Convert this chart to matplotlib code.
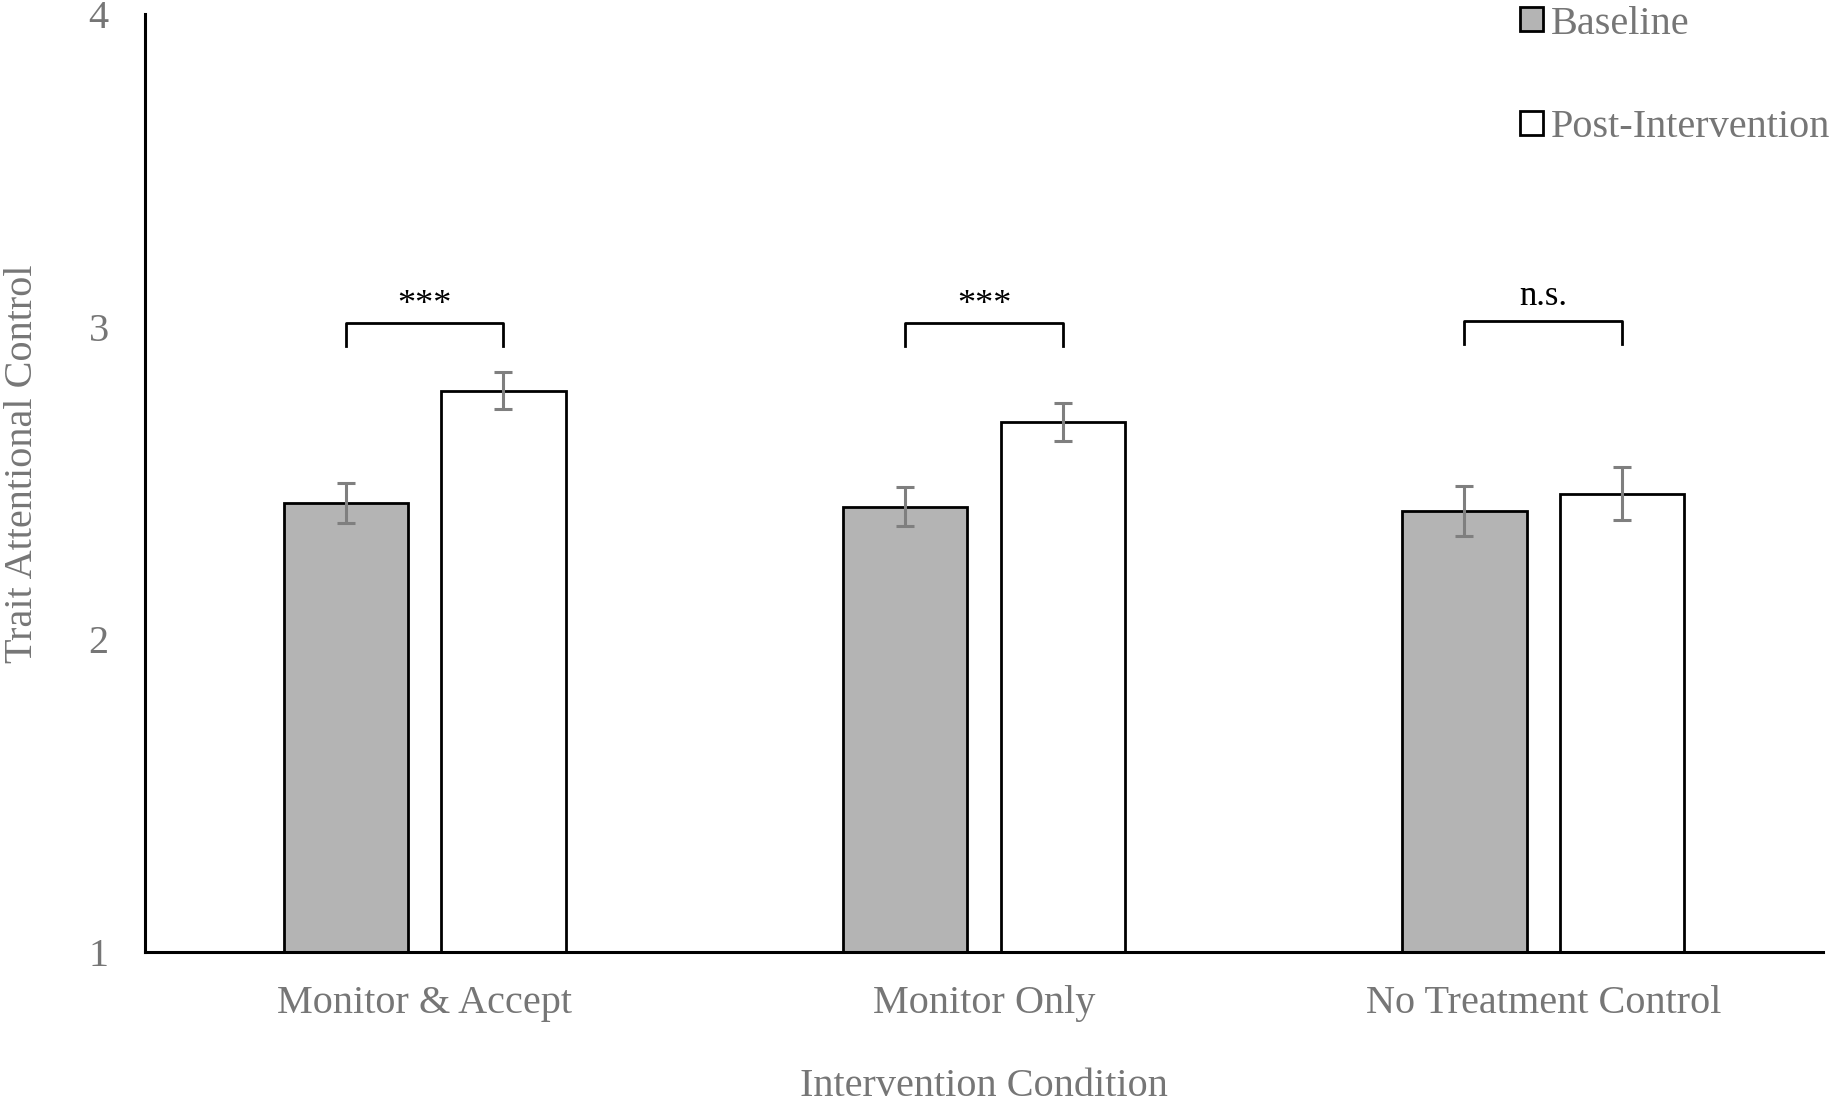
import matplotlib.pyplot as plt
import numpy as np

plt.rcParams["font.family"] = ["Liberation Serif", "DejaVu Serif"]

# Daten
conditions = ["Monitor & Accept", "Monitor Only", "No Treatment Control"]
baseline = [2.436, 2.425, 2.41]
baseline_err = [0.063, 0.062, 0.08]
post = [2.796, 2.695, 2.466]
post_err = [0.06, 0.06, 0.084]
sig_labels = ["***", "***", "n.s."]

grey_text = "#767676"
x = np.arange(len(conditions))
width = 0.222
offset = 0.141

fig = plt.figure(figsize=(18.34, 11.03), dpi=100)
ax = fig.add_axes([0.079, 0.137, 0.915, 0.85])

ax.bar(x - offset, baseline, width, color="#b4b4b4", edgecolor="black",
       linewidth=2, label="Baseline", zorder=2)
ax.bar(x + offset, post, width, color="white", edgecolor="black",
       linewidth=2, label="Post-Intervention", zorder=2)
ax.errorbar(x - offset, baseline, yerr=baseline_err, fmt="none", ecolor="#7f7f7f",
            elinewidth=2.2, capsize=6.5, capthick=2.2, zorder=3)
ax.errorbar(x + offset, post, yerr=post_err, fmt="none", ecolor="#7f7f7f",
            elinewidth=2.2, capsize=6.5, capthick=2.2, zorder=3)

# Signifikanz-Klammern
for i, lab in enumerate(sig_labels):
    top = 3.013 if lab != "n.s." else 3.02
    ax.plot([i - offset, i - offset, i + offset, i + offset],
            [top - 0.075, top, top, top - 0.075], color="black", linewidth=2)
    if lab == "n.s.":
        ax.text(i, top + 0.024, lab, ha="center", va="bottom", fontsize=25, color="black")
    else:
        ax.text(i, top + 0.003, lab, ha="center", va="bottom", fontsize=26, color="black")

ax.set_ylim(1, 4)
ax.set_xlim(-0.5, 2.5)
ax.set_yticks([1, 2, 3, 4])
ax.set_xticks(x)
ax.set_xticklabels(conditions)
ax.tick_params(length=0, labelsize=29, colors=grey_text)
ax.tick_params(axis="x", pad=24)
ax.tick_params(axis="y", pad=26)

for s in ["top", "right"]:
    ax.spines[s].set_visible(False)
for s in ["left", "bottom"]:
    ax.spines[s].set_linewidth(2.2)
    ax.spines[s].set_color("black")

ax.set_xlabel("Intervention Condition", fontsize=29, color=grey_text, labelpad=33)
ax.set_ylabel("Trait Attentional Control", fontsize=29, color=grey_text)
ax.yaxis.set_label_coords(-0.062, 0.521)

leg = fig.legend(loc="upper left", bbox_to_anchor=(0.829, 0.995),
                 bbox_transform=fig.transFigure, frameon=False, borderpad=0,
                 borderaxespad=0, fontsize=29, labelspacing=1.65,
                 handlelength=0.55, handleheight=0.55, handletextpad=0.2)
for t in leg.get_texts():
    t.set_color(grey_text)

fig.savefig("out.png", dpi=100)
